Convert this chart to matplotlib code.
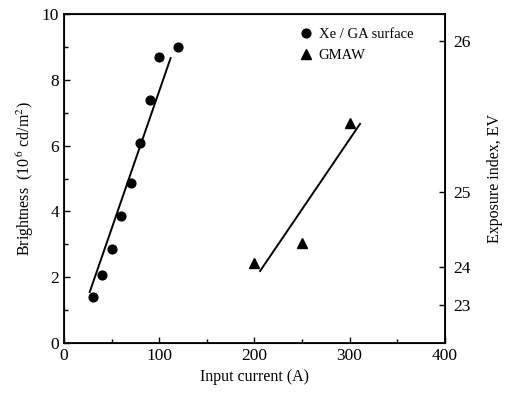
import numpy as np
import matplotlib.pyplot as plt
from matplotlib.ticker import MultipleLocator

plt.rcParams['font.family'] = ['Liberation Serif', 'DejaVu Serif']
plt.rcParams['mathtext.fontset'] = 'stix'

# Xe / GA surface
xe_current = [30, 40, 50, 60, 70, 80, 90, 100, 120]
xe_bright = [1.40, 2.07, 2.86, 3.86, 4.86, 6.08, 7.39, 8.69, 9.0]
xe_fit_x = [27, 112]
xe_fit_y = [1.55, 8.66]

# GMAW
gm_current = [200, 250, 300]
gm_bright = [2.43, 3.04, 6.69]
gm_fit_x = [206, 311]
gm_fit_y = [2.19, 6.66]

ev_ticks = [23, 24, 25, 26]
EV_OFFSET = 22.8  # brightness = 2**(EV - offset)


def ev_to_bright(ev):
    return 2.0 ** (np.asarray(ev, dtype=float) - EV_OFFSET)


fig = plt.figure(figsize=(5.06, 3.98), dpi=100)
ax = fig.add_axes([0.1265, 0.138, 0.7525, 0.827])

ax.plot(xe_current, xe_bright, 'o', color='black', markersize=6.3, label='Xe / GA surface')
ax.plot(gm_current, gm_bright, '^', color='black', markersize=6.5, label='GMAW')
ax.plot(xe_fit_x, xe_fit_y, '-', color='black', lw=1.4)
ax.plot(gm_fit_x, gm_fit_y, '-', color='black', lw=1.4)

ax.set_xlim(0, 400)
ax.set_ylim(0, 10)
ax.xaxis.set_major_locator(MultipleLocator(100))
ax.xaxis.set_minor_locator(MultipleLocator(50))
ax.yaxis.set_major_locator(MultipleLocator(2))
ax.yaxis.set_minor_locator(MultipleLocator(1))
ax.tick_params(which='both', direction='in', labelsize=12.5, top=False, right=False)
ax.tick_params(which='major', length=4, width=1)
ax.tick_params(which='minor', length=3, width=1)
for s in ax.spines.values():
    s.set_linewidth(1.3)

ax.set_xlabel('Input current (A)', fontsize=11.5)
ax.set_ylabel('Brightness  (10$^{\\,6}$ cd/m$^{2}$)', fontsize=11.5)

ax.legend(loc='upper left', bbox_to_anchor=(0.6, 0.975), frameon=False,
          fontsize=10.5, handletextpad=0.4, borderaxespad=0.0, labelspacing=0.55,
          handlelength=1.0)

ax2 = ax.twinx()
ax2.set_ylim(0, 10)
ax2.set_yticks(ev_to_bright(ev_ticks))
ax2.set_yticklabels([str(v) for v in ev_ticks])
ax2.tick_params(direction='in', labelsize=12.5, length=4, width=1, pad=6)
ax2.set_ylabel('Exposure index, EV', fontsize=11.5, labelpad=12)

fig.savefig('out.png', dpi=100)
